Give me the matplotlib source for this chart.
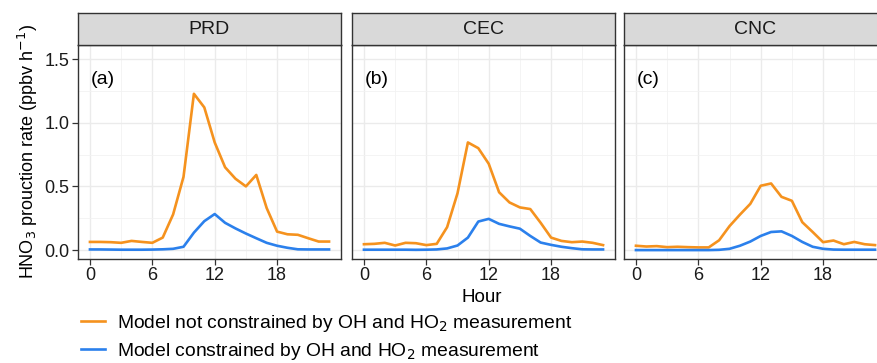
import numpy as np
import matplotlib
matplotlib.use("Agg")
import matplotlib.pyplot as plt
from matplotlib.lines import Line2D
from matplotlib.ticker import FixedLocator, FormatStrFormatter

plt.rcParams["font.family"] = ["Liberation Sans", "DejaVu Sans"]

hours = list(range(24))
regions = ["PRD", "CEC", "CNC"]
panel_tags = ["(a)", "(b)", "(c)"]
x_ticks = [0, 6, 12, 18]
y_ticks = [0.0, 0.5, 1.0, 1.5]

# Model not constrained by OH and HO2 (orange)
free_prd = [0.064, 0.064, 0.062, 0.057, 0.072, 0.064, 0.057, 0.098, 0.28, 0.575,
            1.227, 1.12, 0.845, 0.65, 0.56, 0.50, 0.59, 0.33, 0.145, 0.124,
            0.12, 0.093, 0.067, 0.067]
free_cec = [0.046, 0.049, 0.057, 0.036, 0.057, 0.054, 0.039, 0.049, 0.18, 0.446,
            0.845, 0.80, 0.678, 0.454, 0.374, 0.335, 0.322, 0.214, 0.098, 0.072,
            0.062, 0.067, 0.057, 0.039]
free_cnc = [0.034, 0.028, 0.031, 0.023, 0.026, 0.023, 0.021, 0.021, 0.077, 0.188,
            0.278, 0.363, 0.505, 0.523, 0.418, 0.387, 0.219, 0.142, 0.062, 0.075,
            0.046, 0.064, 0.046, 0.039]

# Model constrained by OH and HO2 (blue)
cons_prd = [0.005, 0.005, 0.004, 0.003, 0.003, 0.003, 0.004, 0.006, 0.01, 0.026,
            0.137, 0.227, 0.283, 0.214, 0.17, 0.13, 0.093, 0.057, 0.034, 0.018,
            0.006, 0.005, 0.005, 0.005]
cons_cec = [0.003, 0.003, 0.003, 0.003, 0.003, 0.002, 0.003, 0.005, 0.013, 0.036,
            0.098, 0.224, 0.245, 0.206, 0.186, 0.168, 0.111, 0.059, 0.041, 0.026,
            0.015, 0.006, 0.005, 0.005]
cons_cnc = [0.0, 0.0, 0.0, 0.0, 0.0, 0.0, 0.0, 0.0, 0.002, 0.01,
            0.034, 0.067, 0.111, 0.142, 0.147, 0.111, 0.064, 0.026, 0.01, 0.004,
            0.003, 0.003, 0.003, 0.003]

free_all = [free_prd, free_cec, free_cnc]
cons_all = [cons_prd, cons_cec, cons_cnc]

orange = "#F5921E"
blue = "#2B80EC"
frame = "#333333"

W, H = 877, 363
fig = plt.figure(figsize=(W / 100, H / 100), dpi=100)

lefts = [78, 352, 624]
pw = 263
top, bottom = 45, 259
strip_top = 13

for i, reg in enumerate(regions):
    ax = fig.add_axes([lefts[i] / W, 1 - bottom / H, pw / W, (bottom - top) / H])
    ax.set_facecolor("white")
    ax.plot(hours, free_all[i], color=orange, lw=1.9, solid_joinstyle="round")
    ax.plot(hours, cons_all[i], color=blue, lw=1.9, solid_joinstyle="round")
    ax.set_xlim(-1.15, 24.15)
    ax.set_ylim(-0.07, 1.61)
    ax.xaxis.set_major_locator(FixedLocator(x_ticks))
    ax.xaxis.set_minor_locator(FixedLocator([3, 9, 15, 21]))
    ax.yaxis.set_major_locator(FixedLocator(y_ticks))
    ax.yaxis.set_minor_locator(FixedLocator([0.25, 0.75, 1.25]))
    ax.grid(which="major", color="#EBEBEB", lw=1.0)
    ax.grid(which="minor", color="#F2F2F2", lw=0.6)
    ax.set_axisbelow(True)
    for s in ax.spines.values():
        s.set_color(frame)
        s.set_linewidth(1.0)
    ax.tick_params(which="minor", length=0)
    ax.tick_params(which="major", length=4, width=0.9, color=frame,
                   labelsize=13, labelcolor="#1A1A1A", pad=2)
    if i == 0:
        ax.yaxis.set_major_formatter(FormatStrFormatter("%.1f"))
        ax.set_ylabel("HNO$_3$ prouction rate (ppbv h$^{-1}$)", fontsize=13,
                      labelpad=3)
    else:
        ax.tick_params(axis="y", left=False, labelleft=False)
    ax.text(0.1, 1.34, panel_tags[i], fontsize=14, ha="left", va="center")

    sax = fig.add_axes([lefts[i] / W, 1 - top / H, pw / W, (top - strip_top) / H])
    sax.set_facecolor("#D9D9D9")
    sax.set_xticks([])
    sax.set_yticks([])
    for s in sax.spines.values():
        s.set_color(frame)
        s.set_linewidth(1.0)
    sax.text(0.5, 0.48, reg, transform=sax.transAxes, ha="center", va="center",
             fontsize=14, color="#1A1A1A")

fig.text(482 / W, 1 - 298 / H, "Hour", ha="center", va="center", fontsize=13.5)

handles = [Line2D([], [], color=orange, lw=1.9),
           Line2D([], [], color=blue, lw=1.9)]
labels = ["Model not constrained by OH and HO$_2$ measurement",
          "Model constrained by OH and HO$_2$ measurement"]
fig.legend(handles, labels, loc="upper left", bbox_to_anchor=(81 / W, 1 - 313 / H),
           frameon=False, fontsize=13.9, handlelength=1.25, handletextpad=0.6,
           labelspacing=0.35, borderaxespad=0, borderpad=0)

fig.savefig("out.png", dpi=100)
